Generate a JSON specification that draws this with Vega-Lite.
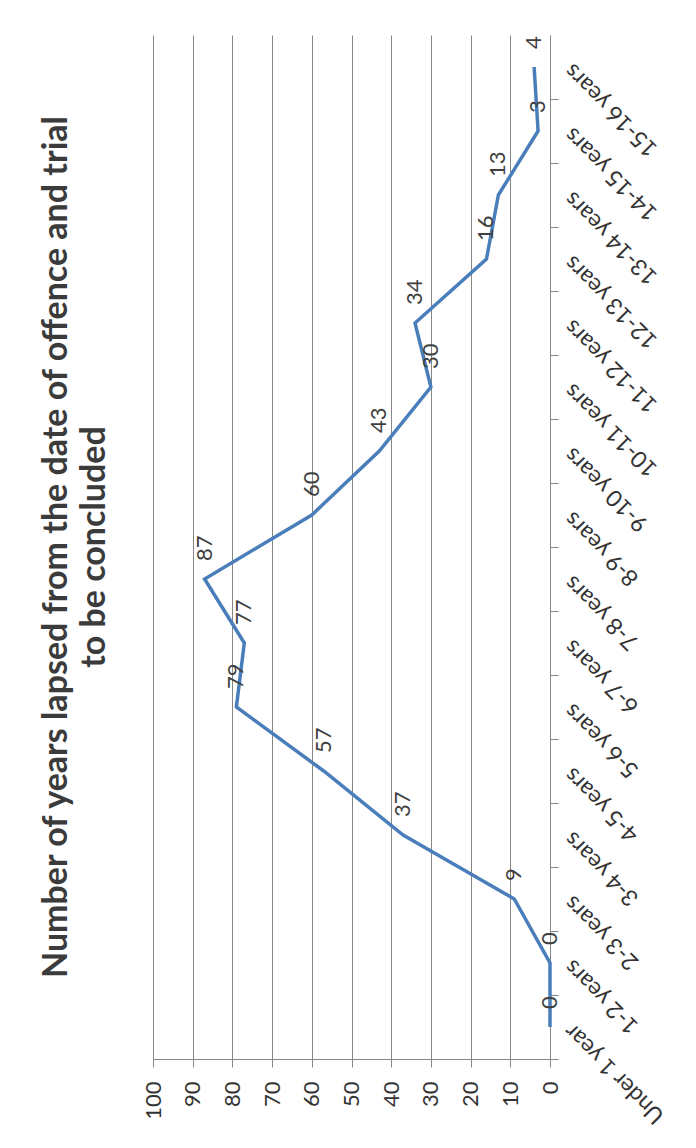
{
  "$schema": "https://vega.github.io/schema/vega-lite/v6.json",
  "width": 397,
  "height": 1024,
  "autosize": "none",
  "padding": {"left": 153, "top": 35, "right": 146, "bottom": 89},
  "background": "white",
  "config": {"view": {"stroke": null}, "font": "Lato"},
  "title": {
    "text": ["Number of years lapsed from the date of offence and trial", "to be concluded"],
    "orient": "left",
    "anchor": "middle",
    "fontSize": 34,
    "font": "Lato",
    "fontWeight": "bold",
    "color": "#3b3b3b",
    "offset": 30,
    "lineHeight": 38
  },
  "data": {
    "values": [
      {"period": "Under 1 year", "count": 0},
      {"period": "1-2 years", "count": 0},
      {"period": "2-3 years", "count": 9},
      {"period": "3-4 years", "count": 37},
      {"period": "4-5 years", "count": 57},
      {"period": "5-6 years", "count": 79},
      {"period": "6-7 years", "count": 77},
      {"period": "7-8 years", "count": 87},
      {"period": "8-9 years", "count": 60},
      {"period": "9-10 years", "count": 43},
      {"period": "10-11 years", "count": 30},
      {"period": "11-12 years", "count": 34},
      {"period": "12-13 years", "count": 16},
      {"period": "13-14 years", "count": 13},
      {"period": "14-15 years", "count": 3},
      {"period": "15-16 years", "count": 4}
    ]
  },
  "encoding": {
    "y": {
      "field": "period",
      "type": "nominal",
      "sort": null,
      "scale": {"type": "band", "paddingInner": 0, "paddingOuter": 0, "reverse": true},
      "axis": {
        "orient": "right",
        "title": null,
        "tickBand": "extent",
        "grid": false,
        "domainColor": "#868686",
        "tickColor": "#868686",
        "tickSize": 8,
        "labelAngle": 225,
        "labelAlign": "right",
        "labelBaseline": "middle",
        "labelFontSize": 23,
        "labelColor": "#333333",
        "labelPadding": 10
      }
    },
    "x": {
      "field": "count",
      "type": "quantitative",
      "scale": {"domain": [0, 100], "reverse": true},
      "axis": {
        "orient": "bottom",
        "title": null,
        "values": [0, 10, 20, 30, 40, 50, 60, 70, 80, 90, 100],
        "grid": true,
        "gridColor": "#868686",
        "gridOpacity": 1,
        "domainColor": "#868686",
        "tickColor": "#868686",
        "tickSize": 8,
        "labelAngle": 270,
        "labelFontSize": 22,
        "labelPadding": 14,
        "labelColor": "#333333"
      }
    }
  },
  "layer": [
    {"mark": {"type": "line", "color": "#4a7ebb", "strokeWidth": 3.5}},
    {
      "mark": {"type": "text", "angle": 270, "align": "left", "baseline": "middle", "dx": 18, "fontSize": 22, "color": "#404040"},
      "encoding": {"text": {"field": "count", "type": "quantitative"}}
    }
  ]
}
